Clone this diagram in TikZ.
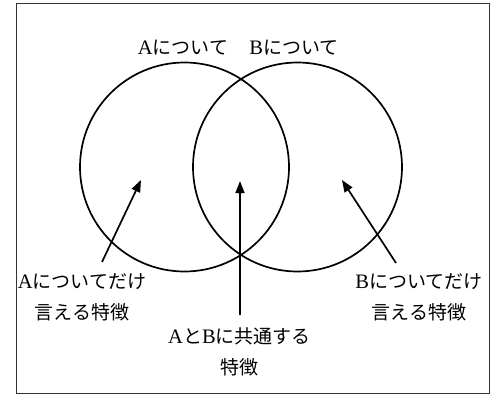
\documentclass[tikz,border=0pt]{standalone}
\usepackage{fontspec}
\setmainfont{Liberation Serif}[Scale=1.08]
\newfontfamily\jpfont{Noto Sans CJK JP}
\newcommand{\jp}[1]{{\jpfont #1}}
\usetikzlibrary{positioning, arrows.meta}

\begin{document}
\begin{tikzpicture}[x=1pt, y=-1pt, line width=1.7pt,
    set/.style={circle, draw, minimum size=209pt, inner sep=0pt},
    lbl/.style={font=\fontsize{19}{31}\selectfont, align=center, inner sep=0pt},
    >={Triangle[length=12pt, width=9pt]}]
    \useasboundingbox (0,0) rectangle (491,394);
    \draw[line width=0.8pt, black!80] (16,3) rectangle (489,393);

    \node[set] (setA) at (184.5,167) {};
    \node[set] (setB) at (297.5,167) {};

    \node[lbl] (nameA) at (183,48) {A\jp{について}};
    \node[lbl] (nameB) at (294,48) {B\jp{について}};

    \node[lbl] (onlyAtxt) at (82,297.5) {A\jp{についてだけ}\\\jp{言える特徴}};
    \node[lbl] (onlyBtxt) at (419,297.5) {B\jp{についてだけ}\\\jp{言える特徴}};
    \node[lbl] (bothtxt) at (239.5,352) {A\jp{と}B\jp{に共通する}\\\jp{特徴}};

    \coordinate (onlyA) at (141,180);
    \coordinate (both) at (240,181);
    \coordinate (onlyB) at (342,180);
    \coordinate (tailA) at (102,262);
    \coordinate (tailBoth) at (240,315);
    \coordinate (tailB) at (396,263);

    \path[->]
    (tailA) edge (onlyA)
    (tailBoth) edge (both)
    (tailB) edge (onlyB);
\end{tikzpicture}
\end{document}
